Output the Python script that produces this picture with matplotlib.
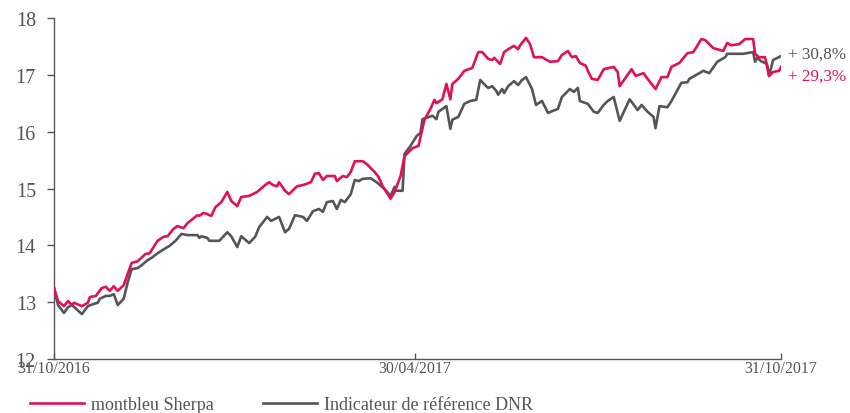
import matplotlib
matplotlib.use("Agg")
import matplotlib.pyplot as plt
import numpy as np
import pandas as pd

# ---- data (days since 31/10/2016, value) ----
sherpa_days = [0, 2, 5, 7, 9, 10, 14, 17, 18, 21, 24, 26, 28, 30, 32, 35, 37, 39, 42, 46, 48, 50,
               52, 55, 57, 60, 62, 65, 67, 72, 73, 75, 77, 78, 79, 81, 84, 87, 89, 92, 94, 98,
               102, 106, 108, 110, 112, 113, 116, 118, 122, 125, 129, 131, 133, 135, 137, 141,
               142, 145, 147, 149, 151, 155, 157, 161, 163, 165, 169, 171, 174, 176, 180, 183,
               186, 189, 191, 192, 195, 197, 199, 200, 203, 206, 210, 213, 215, 218, 220, 221,
               224, 226, 228, 231, 233, 234, 237, 239, 241, 245, 249, 253, 255, 258, 260, 262,
               264, 267, 268, 270, 273, 276, 281, 283, 284, 290, 292, 296, 298, 302, 305, 308,
               310, 314, 318, 321, 325, 327, 331, 336, 338, 340, 344, 347, 351, 352, 354, 357,
               359, 361, 364, 365]
sherpa_vals = [13.25, 13.02, 12.93, 13.02, 12.95, 12.99, 12.93, 12.99, 13.09, 13.11, 13.25, 13.27,
               13.20, 13.28, 13.20, 13.30, 13.50, 13.69, 13.72, 13.85, 13.86, 13.97, 14.08, 14.15,
               14.16, 14.29, 14.34, 14.30, 14.39, 14.53, 14.52, 14.57, 14.55, 14.53, 14.52, 14.67,
               14.76, 14.94, 14.78, 14.69, 14.85, 14.87, 14.94, 15.06, 15.11, 15.06, 15.04, 15.11,
               14.96, 14.90, 15.04, 15.06, 15.11, 15.26, 15.27, 15.15, 15.22, 15.22, 15.13, 15.22,
               15.20, 15.29, 15.48, 15.48, 15.43, 15.29, 15.20, 15.04, 14.82, 14.94, 15.22, 15.57,
               15.71, 15.75, 16.21, 16.40, 16.56, 16.50, 16.57, 16.84, 16.57, 16.84, 16.93, 17.07,
               17.12, 17.40, 17.40, 17.28, 17.26, 17.30, 17.19, 17.40, 17.45, 17.51, 17.45, 17.52,
               17.65, 17.54, 17.31, 17.31, 17.23, 17.24, 17.35, 17.42, 17.31, 17.33, 17.21, 17.16,
               17.07, 16.93, 16.91, 17.10, 17.14, 17.05, 16.80, 17.10, 16.98, 17.03, 16.93, 16.75,
               16.96, 16.96, 17.14, 17.21, 17.38, 17.40, 17.63, 17.61, 17.47, 17.42, 17.56, 17.52,
               17.54, 17.63, 17.63, 17.37, 17.31, 17.31, 16.98, 17.05, 17.07, 17.14]

dnr_days = [0, 2, 5, 7, 9, 14, 17, 20, 22, 23, 26, 28, 30, 32, 35, 37, 39, 42, 44, 47, 49, 52,
            56, 58, 61, 64, 67, 72, 73, 74, 77, 78, 81, 83, 87, 89, 92, 94, 98, 101, 103, 107,
            109, 113, 116, 118, 121, 125, 127, 130, 133, 135, 137, 140, 142, 144, 146, 149, 151,
            153, 155, 159, 162, 163, 166, 169, 171, 172, 175, 176, 179, 182, 184, 185, 190, 192,
            193, 197, 199, 200, 203, 206, 209, 212, 214, 217, 218, 220, 222, 223, 225, 226, 228,
            231, 233, 235, 237, 240, 242, 245, 248, 250, 253, 255, 259, 261, 263, 264, 268, 271,
            273, 276, 278, 281, 284, 289, 292, 293, 295, 298, 301, 302, 304, 308, 310, 315, 318,
            319, 323, 326, 329, 333, 337, 338, 346, 351, 352, 353, 355, 358, 359, 361, 365]
dnr_vals = [13.25, 12.95, 12.81, 12.91, 12.95, 12.79, 12.93, 12.97, 12.99, 13.06, 13.11, 13.11,
            13.14, 12.95, 13.06, 13.35, 13.58, 13.60, 13.65, 13.74, 13.78, 13.86, 13.95, 13.99,
            14.08, 14.20, 14.18, 14.18, 14.13, 14.16, 14.13, 14.08, 14.08, 14.08, 14.23, 14.16,
            13.97, 14.16, 14.04, 14.15, 14.32, 14.50, 14.43, 14.50, 14.23, 14.29, 14.53, 14.50,
            14.43, 14.60, 14.64, 14.59, 14.76, 14.78, 14.64, 14.80, 14.76, 14.90, 15.15, 15.13,
            15.17, 15.18, 15.11, 15.08, 14.99, 14.87, 15.03, 14.96, 14.96, 15.61, 15.75, 15.92,
            15.98, 16.22, 16.28, 16.22, 16.35, 16.45, 16.05, 16.21, 16.26, 16.49, 16.54, 16.56,
            16.91, 16.80, 16.77, 16.80, 16.72, 16.65, 16.75, 16.68, 16.80, 16.89, 16.82, 16.91,
            16.96, 16.75, 16.47, 16.54, 16.33, 16.36, 16.40, 16.61, 16.75, 16.70, 16.77, 16.54,
            16.49, 16.35, 16.33, 16.47, 16.54, 16.61, 16.19, 16.57, 16.43, 16.38, 16.47, 16.35,
            16.26, 16.06, 16.45, 16.43, 16.54, 16.86, 16.87, 16.93, 17.01, 17.07, 17.03, 17.23,
            17.31, 17.37, 17.37, 17.40, 17.23, 17.30, 17.24, 17.19, 16.98, 17.26, 17.33]

start_date = "2016-10-31"
tick_dates = ["2016-10-31", "2017-04-30", "2017-10-31"]
tick_labels = ["31/10/2016", "30/04/2017", "31/10/2017"]
series_names = ["montbleu Sherpa", "Indicateur de référence DNR"]
end_labels = ["+ 29,3%", "+ 30,8%"]

PINK = "#E0115A"
GREY = "#555555"
TXT = "#555555"

plt.rcParams['font.family'] = ['Liberation Serif', 'DejaVu Serif']

t0 = pd.Timestamp(start_date)
sx = [t0 + pd.Timedelta(days=d) for d in sherpa_days]
dx = [t0 + pd.Timedelta(days=d) for d in dnr_days]

fig = plt.figure(figsize=(8.5, 4.14), dpi=100)
ax = fig.add_axes([54/850, 1-360/414, (781-54)/850, (360-19)/414])

l1, = ax.plot(sx, sherpa_vals, color=PINK, lw=1.9, label=series_names[0], zorder=3)
l2, = ax.plot(dx, dnr_vals, color=GREY, lw=1.9, label=series_names[1], zorder=2)

ax.set_xlim(pd.Timestamp(tick_dates[0]), pd.Timestamp(tick_dates[-1]))
ax.set_ylim(12, 18)
ax.set_yticks(range(12, 19))
ax.set_xticks([pd.Timestamp(d) for d in tick_dates])
ax.set_xticklabels(tick_labels)

for s in ["top", "right"]:
    ax.spines[s].set_visible(False)
for s in ["left", "bottom"]:
    ax.spines[s].set_color(GREY)
    ax.spines[s].set_linewidth(1.0)

ax.tick_params(axis='y', direction='out', length=5, width=1, color=GREY,
               labelsize=14.5, labelcolor=TXT, pad=8)
ax.tick_params(axis='x', direction='in', length=4, width=1, color=GREY,
               labelsize=11.5, labelcolor=TXT, pad=1)

# end labels
ax.annotate(end_labels[1], xy=(dx[-1], dnr_vals[-1]), xytext=(5, 2), textcoords='offset points',
            color=GREY, fontsize=12.3, va='center', ha='left', annotation_clip=False)
ax.annotate(end_labels[0], xy=(sx[-1], sherpa_vals[-1]), xytext=(5, -6.5), textcoords='offset points',
            color=PINK, fontsize=12.3, va='center', ha='left', annotation_clip=False)

fig.legend(handles=[l1, l2], labels=series_names, loc='center left',
           bbox_to_anchor=(30/850, 1-406/414), ncol=2, frameon=False,
           fontsize=13, labelcolor=TXT, handlelength=3.0, handletextpad=0.4,
           columnspacing=2.7, borderpad=0, borderaxespad=0)

fig.savefig("out.png", dpi=100)
